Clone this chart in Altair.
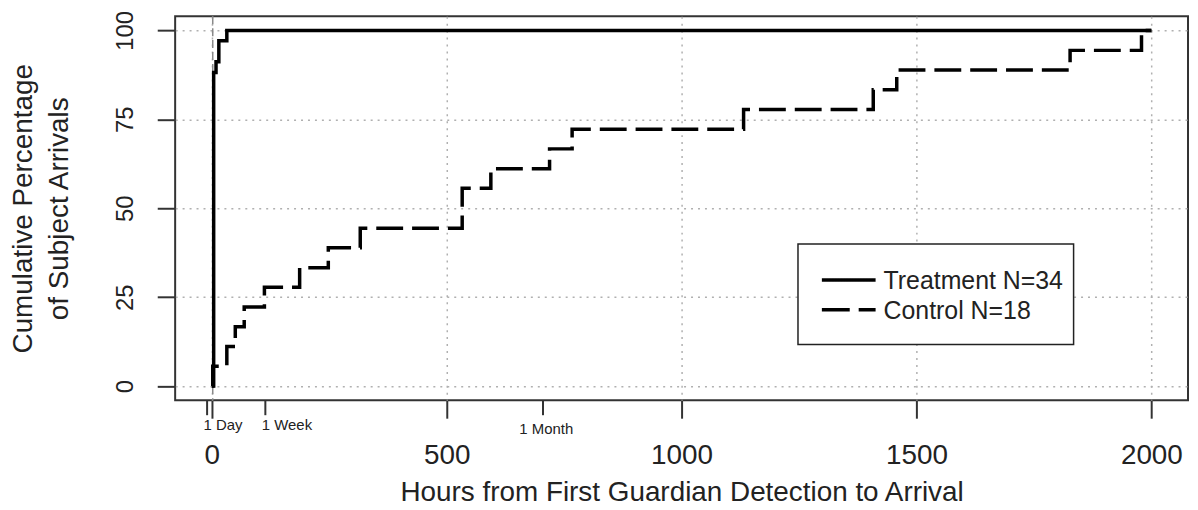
import altair as alt
import pandas as pd

# ---- values ----
treatment_hours = [0, 4, 9, 15, 32, 2000]
treatment_pct = [0, 88.2, 91.2, 97.1, 100, 100]

control_hours = [0, 2, 32, 50, 69, 112, 187, 248, 316, 533, 594, 719, 767,
                 1132, 1408, 1458, 1827, 1979, 2000]
control_pct = [0, 5.6, 11.1, 16.7, 22.2, 27.8, 33.3, 38.9, 44.4, 55.6, 61.1,
               66.7, 72.2, 77.8, 83.3, 88.9, 94.4, 100, 100]

x_ticks = [0, 500, 1000, 1500, 2000]
y_ticks = [0, 25, 50, 75, 100]
minor_tick_hours = [-10, 114, 705]
period_labels = ["1 Day", "1 Week", "1 Month"]
period_label_hours = [24, 160, 712]
reference_hour = [2]
series_labels = ["Treatment N=34", "Control N=18"]

FONT = "Liberation Sans"
INK = "#222222"
W, H = 1018, 386

xs = alt.Scale(domain=[-78, 2078], nice=False, zero=False)
ys = alt.Scale(domain=[-4, 104], nice=False, zero=False)

grid_kw = dict(grid=True, gridColor="#b0b0b0", gridDash=[2, 5], gridWidth=1.5,
               domain=False, tickSize=18, tickWidth=2, tickColor="#333333",
               labelFont=FONT, labelColor=INK, labelFlush=False,
               titleFont=FONT, titleColor=INK, titleFontWeight="normal",
               labelOverlap=False)

x_axis = alt.Axis(values=x_ticks, format="d",
                  title="Hours from First Guardian Detection to Arrival",
                  labelFontSize=28, labelPadding=46, labelBaseline="alphabetic",
                  titleFontSize=28, titleY=101, titleBaseline="alphabetic",
                  **grid_kw)
y_axis = alt.Axis(values=y_ticks, format="d",
                  title=["Cumulative Percentage", "of Subject Arrivals"],
                  labelFontSize=24, labelAngle=270, labelAlign="center",
                  labelBaseline="alphabetic", labelPadding=25,
                  titleFontSize=28, titleAngle=270, titleAlign="center",
                  titleBaseline="alphabetic", titleX=-144, titleY=H / 2,
                  titleLineHeight=36,
                  **grid_kw)

X = lambda: alt.X("hours:Q", scale=xs, axis=x_axis)
Y = lambda: alt.Y("pct:Q", scale=ys, axis=y_axis)

df_t = pd.DataFrame({"hours": treatment_hours, "pct": treatment_pct})
df_c = pd.DataFrame({"hours": control_hours, "pct": control_pct})

ref = alt.Chart(pd.DataFrame({"hours": reference_hour})).mark_rule(
    color="#8a8a8a", strokeDash=[8, 4], strokeWidth=1.5
).encode(x=X())

control = alt.Chart(df_c).mark_line(
    interpolate="step-after", color="black", strokeWidth=3.5, strokeDash=[27, 9]
).encode(x=X(), y=Y())

treatment = alt.Chart(df_t).mark_line(
    interpolate="step-after", color="black", strokeWidth=3.5
).encode(x=X(), y=Y())

minor_ticks = alt.Chart(pd.DataFrame({"hours": minor_tick_hours})).mark_rule(
    color="#333333", strokeWidth=2
).encode(x=X(), y=alt.value(H), y2=alt.value(H + 15))

df_p = pd.DataFrame({"hours": period_label_hours, "label": period_labels})
period_text_a = alt.Chart(df_p.iloc[:2]).mark_text(
    font=FONT, fontSize=15, color=INK, baseline="alphabetic", align="center"
).encode(x=X(), y=alt.value(H + 30), text="label:N")
period_text_b = alt.Chart(df_p.iloc[2:]).mark_text(
    font=FONT, fontSize=15, color=INK, baseline="alphabetic", align="center"
).encode(x=X(), y=alt.value(H + 34), text="label:N")

# ---- legend (drawn as a boxed key) ----
legend_box = alt.Chart(pd.DataFrame({"k": [0]})).mark_rect(
    fill="white", stroke="#222222", strokeWidth=1.5
).encode(x=alt.value(626), x2=alt.value(903), y=alt.value(229), y2=alt.value(330))

legend_layers = [legend_box]
row_y = [265, 295]
dashes = [[1, 0], [28, 9]]
for lab, yy, dsh in zip(series_labels, row_y, dashes):
    legend_layers.append(
        alt.Chart(pd.DataFrame({"k": [0]})).mark_rule(
            color="black", strokeWidth=3.5, strokeDash=dsh
        ).encode(x=alt.value(650), x2=alt.value(704), y=alt.value(yy))
    )
    legend_layers.append(
        alt.Chart(pd.DataFrame({"label": [lab]})).mark_text(
            font=FONT, fontSize=25, color=INK, align="left", baseline="middle"
        ).encode(x=alt.value(712), y=alt.value(yy + 1), text="label:N")
    )

chart = alt.layer(
    ref, control, treatment, minor_ticks, period_text_a, period_text_b,
    *legend_layers
).properties(
    width=W, height=H,
    padding={"left": 168, "top": 7, "right": 2, "bottom": 108},
    autosize=alt.AutoSizeParams(type="none"),
    background="white",
).configure_view(stroke="#333333", strokeWidth=2)

chart.save("out.html", embed_options={"renderer": "svg", "actions": False})
